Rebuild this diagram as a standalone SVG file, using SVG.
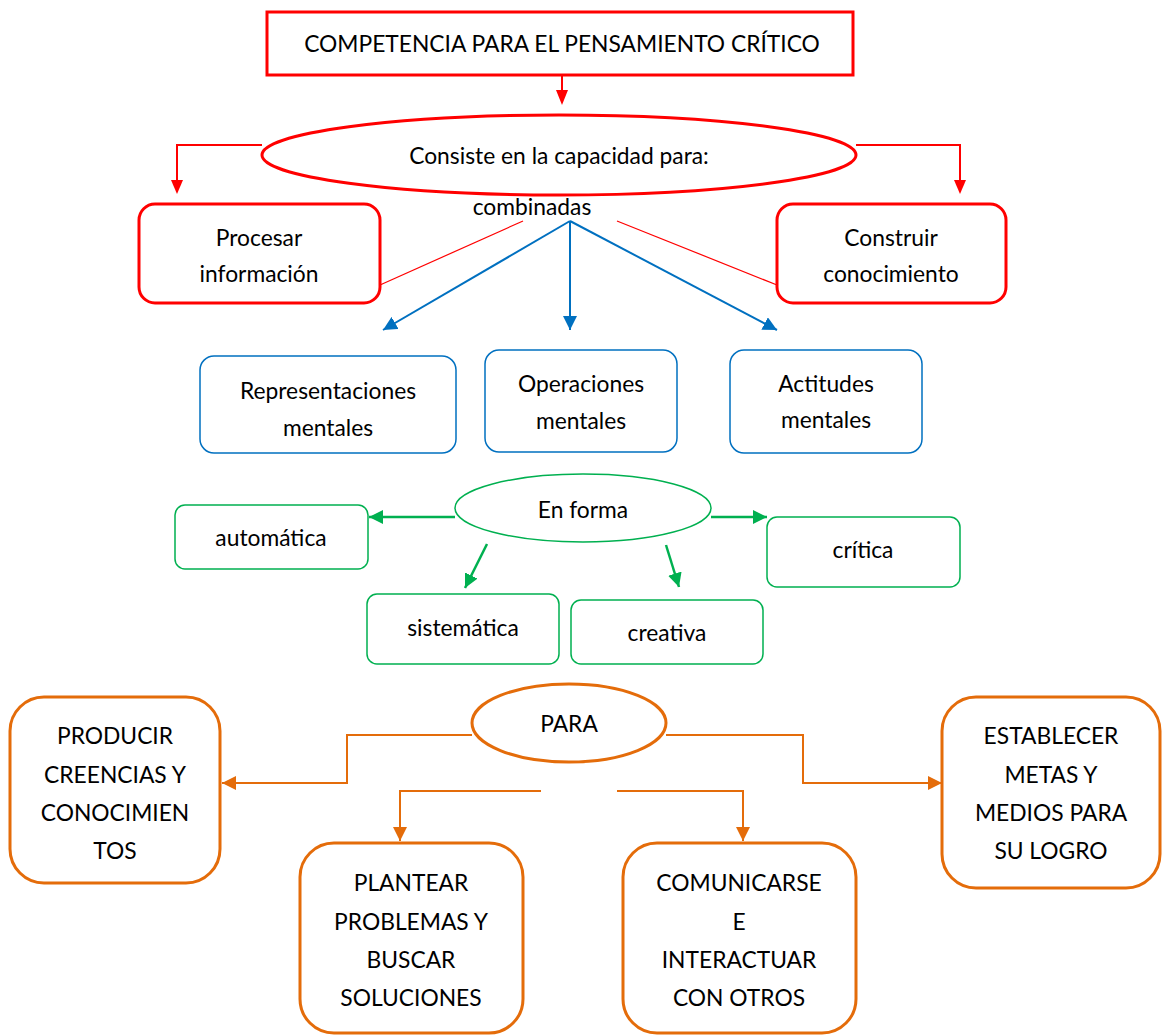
<svg xmlns="http://www.w3.org/2000/svg" width="1162" height="1035" viewBox="0 0 1162 1035">
<defs>
<style>
text{font-family:Lato,"Open Sans","Liberation Sans",sans-serif;font-size:22.8px;fill:#000;text-anchor:middle;dominant-baseline:central}
.red{fill:#fff;stroke:#FF0000;stroke-width:3}
.blue{fill:#fff;stroke:#0070C0;stroke-width:1.5}
.green{fill:#fff;stroke:#00B050;stroke-width:1.5}
.orange{fill:#fff;stroke:#E46C0A;stroke-width:3}
.lr{fill:none;stroke:#FF0000;stroke-width:2}
.lrt{fill:none;stroke:#FF0000;stroke-width:1.2}
.lb{fill:none;stroke:#0070C0;stroke-width:2}
.lg{fill:none;stroke:#00B050;stroke-width:2.5}
.lo{fill:none;stroke:#E46C0A;stroke-width:2}
</style>
<marker id="ab" viewBox="0 0 10 10" refX="10" refY="5" markerWidth="14" markerHeight="14" orient="auto" markerUnits="userSpaceOnUse"><path d="M0,0L10,5L0,10z" fill="#0070C0"/></marker>
<marker id="ag" viewBox="0 0 10 10" refX="10" refY="5" markerWidth="14" markerHeight="14" orient="auto" markerUnits="userSpaceOnUse"><path d="M0,0L10,5L0,10z" fill="#00B050"/></marker>
<marker id="ao" viewBox="0 0 10 10" refX="10" refY="5" markerWidth="14" markerHeight="14" orient="auto" markerUnits="userSpaceOnUse"><path d="M0,0L10,5L0,10z" fill="#E46C0A"/></marker>
</defs>
<g id="connectors">
<path class="lr" d="M562,75V92"/>
<path d="M556,90L568,90L562,105z" fill="#FF0000"/>
<path class="lr" d="M262,145H177V182"/>
<path d="M171,180L183,180L177,194z" fill="#FF0000"/>
<path class="lr" d="M856,145H960V182"/>
<path d="M954,180L966,180L960,194z" fill="#FF0000"/>
<path class="lrt" d="M523,221L380,285"/>
<path class="lrt" d="M617,221L777,285"/>
<path class="lb" d="M570,221L383,330" marker-end="url(#ab)"/>
<path class="lb" d="M570,221V330" marker-end="url(#ab)"/>
<path class="lb" d="M570,221L777,330" marker-end="url(#ab)"/>
<path class="lg" d="M455,517H369" marker-end="url(#ag)"/>
<path class="lg" d="M711,517H767" marker-end="url(#ag)"/>
<path class="lg" d="M487,544L465,588" marker-end="url(#ag)"/>
<path class="lg" d="M666,545L679,587" marker-end="url(#ag)"/>
<path class="lo" d="M472,735H347V783H222" marker-end="url(#ao)"/>
<path class="lo" d="M666,735H803V783H942" marker-end="url(#ao)"/>
<path class="lo" d="M541,791H400V841" marker-end="url(#ao)"/>
<path class="lo" d="M617,791H743V841" marker-end="url(#ao)"/>
</g>
<g id="title"><rect class="red" x="267" y="12" width="586" height="63"/><text x="562" y="43">COMPETENCIA PARA EL PENSAMIENTO CRÍTICO</text></g>
<g id="consiste"><ellipse class="red" cx="559" cy="155" rx="297" ry="40"/><text x="559" y="155">Consiste en la capacidad para:</text></g>
<g id="combinadas"><text x="532" y="206">combinadas</text></g>
<g id="procesar"><rect class="red" x="139" y="204" width="241" height="99" rx="16"/><text x="259" y="237">Procesar</text><text x="259" y="273">información</text></g>
<g id="construir"><rect class="red" x="777" y="204" width="229" height="99" rx="16"/><text x="891" y="237">Construir</text><text x="891" y="273">conocimiento</text></g>
<g id="representaciones"><rect class="blue" x="200" y="356" width="256" height="97" rx="14"/><text x="328" y="390">Representaciones</text><text x="328" y="427">mentales</text></g>
<g id="operaciones"><rect class="blue" x="485" y="350" width="192" height="102" rx="14"/><text x="581" y="383">Operaciones</text><text x="581" y="420">mentales</text></g>
<g id="actitudes"><rect class="blue" x="730" y="350" width="192" height="103" rx="14"/><text x="826" y="383">Actitudes</text><text x="826" y="419">mentales</text></g>
<g id="enforma"><ellipse class="green" cx="583" cy="508" rx="128" ry="34"/><text x="583" y="509">En forma</text></g>
<g id="automatica"><rect class="green" x="175" y="505" width="193" height="64" rx="10"/><text x="271" y="537">automática</text></g>
<g id="critica"><rect class="green" x="767" y="517" width="193" height="70" rx="10"/><text x="863" y="549">crítica</text></g>
<g id="sistematica"><rect class="green" x="367" y="594" width="192" height="70" rx="10"/><text x="463" y="627">sistemática</text></g>
<g id="creativa"><rect class="green" x="571" y="600" width="192" height="64" rx="10"/><text x="667" y="632">creativa</text></g>
<g id="para"><ellipse class="orange" cx="569" cy="723" rx="97" ry="39"/><text x="569" y="723">PARA</text></g>
<g id="producir"><rect class="orange" x="10" y="697" width="210" height="186" rx="34"/><text x="115" y="735">PRODUCIR</text><text x="115" y="774">CREENCIAS Y</text><text x="115" y="812">CONOCIMIEN</text><text x="115" y="850">TOS</text></g>
<g id="establecer"><rect class="orange" x="942" y="697" width="218" height="191" rx="34"/><text x="1051" y="735">ESTABLECER</text><text x="1051" y="774">METAS Y</text><text x="1051" y="812">MEDIOS PARA</text><text x="1051" y="850">SU LOGRO</text></g>
<g id="plantear"><rect class="orange" x="300" y="843" width="223" height="190" rx="34"/><text x="411" y="882">PLANTEAR</text><text x="411" y="921">PROBLEMAS Y</text><text x="411" y="959">BUSCAR</text><text x="411" y="997">SOLUCIONES</text></g>
<g id="comunicarse"><rect class="orange" x="623" y="843" width="233" height="190" rx="34"/><text x="739" y="882">COMUNICARSE</text><text x="739" y="921">E</text><text x="739" y="959">INTERACTUAR</text><text x="739" y="997">CON OTROS</text></g>
</svg>
